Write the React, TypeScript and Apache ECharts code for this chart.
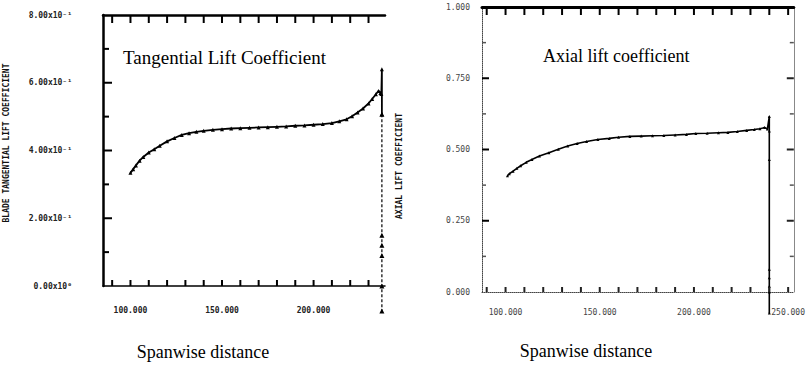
import React, { useEffect, useRef } from "react";
import * as echarts from "echarts";

// Left panel: blade tangential lift coefficient vs spanwise distance
const tangentialMain: [number, number][] = [
  [100, 0.334], [101.5, 0.345], [103, 0.356], [105, 0.37], [107, 0.381], [110, 0.394],
  [113, 0.404], [116, 0.414], [120, 0.427], [124, 0.437], [128, 0.446], [132, 0.451],
  [136, 0.455], [140, 0.458], [145, 0.461], [150, 0.463], [155, 0.465], [160, 0.466],
  [165, 0.467], [170, 0.468], [175, 0.469], [180, 0.47], [185, 0.471], [190, 0.473],
  [195, 0.474], [200, 0.476], [205, 0.478], [210, 0.481], [214, 0.486], [218, 0.492],
  [221, 0.501], [224, 0.512], [227, 0.524], [230, 0.539], [232, 0.552], [234, 0.566],
  [235.5, 0.576], [236.5, 0.57], [237, 0.567], [237.3, 0.64], [237.3, 0.507],
];
const tangentialTip: [number, number][] = [
  [237.3, 0.507], [237.3, 0.15], [237.3, 0.12], [237.3, 0.09], [237.3, 0.0], [237.3, -0.074],
];

// Right panel: axial lift coefficient vs spanwise distance
const axialMain: [number, number][] = [
  [101, 0.408], [102, 0.415], [104, 0.424], [106, 0.434], [108, 0.443], [111, 0.455],
  [114, 0.465], [118, 0.477], [123, 0.489], [128, 0.501], [133, 0.512], [138, 0.521],
  [143, 0.528], [149, 0.535], [155, 0.539], [160, 0.543], [166, 0.546], [172, 0.547],
  [178, 0.548], [184, 0.549], [190, 0.551], [196, 0.553], [201, 0.556], [207, 0.557],
  [213, 0.559], [218, 0.56], [223, 0.563], [228, 0.567], [232, 0.57], [235, 0.573],
  [237.5, 0.577], [239, 0.572], [240, 0.616], [240, 0.565], [240, 0.465], [240, 0.08],
  [240, 0.05], [240, 0.02], [240, 0.0], [240, -0.074],
];

// Axis ranges
const leftXMin = 85, leftXMax = 239, leftYMax = 0.8;
const rightXMin = 87.5, rightXMax = 253, rightYMax = 1;

// Tick labels and tick positions
const leftYTicks = [0.2, 0.4, 0.6];
const leftYMinorTicks = [0.1, 0.3, 0.5, 0.7];
const leftYLabels = ["0.00x10⁰", "2.00x10⁻¹", "4.00x10⁻¹", "6.00x10⁻¹", "8.00x10⁻¹"];
const rightYTicks = [0.25, 0.5, 0.75];
const rightYMinorTicks = [0.125, 0.375, 0.625, 0.875];
const rightYLabels = ["0.000", "0.250", "0.500", "0.750", "1.000"];
const leftXLabelValues = [100, 150, 200];
const rightXLabelValues = [100, 150, 200, 250];
const leftXTickValues = [90, 100, 110, 120, 130, 140, 150, 160, 170, 180, 190, 200, 210, 220, 230];
const rightXTickValues = [90, 100, 110, 120, 130, 140, 150, 160, 170, 180, 190, 200, 210, 220, 230, 240, 250];

const MONO = "DejaVu Sans Mono";
const SERIF = "Liberation Serif";

function tickSeries(
  xAxisIndex: number, yAxisIndex: number, data: [number, number][],
  size: [number, number], offset: [number, number], color = "#000",
) {
  return {
    type: "scatter", xAxisIndex, yAxisIndex, data, clip: false, silent: true,
    symbol: "rect", symbolSize: size, symbolOffset: offset, symbolKeepAspect: false,
    itemStyle: { color, opacity: 1 }, z: 10,
  };
}

export default function App() {
  const ref = useRef<HTMLDivElement>(null);
  useEffect(() => {
    if (!ref.current) return;
    const chart = echarts.init(ref.current, undefined, { renderer: "svg" });
    const labelStyle = { fontFamily: MONO, fontSize: 8, fontWeight: "bold" as const, color: "#222" };
    const noTick = { show: false };
    chart.setOption({
      animation: false,
      backgroundColor: "#ffffff",
      grid: [
        { left: 103, top: 15, width: 282, height: 271 },
        { left: 482, top: 7, width: 318, height: 285 },
      ],
      xAxis: [
        {
          type: "value", gridIndex: 0, position: "bottom", min: leftXMin, max: leftXMax,
          axisLine: { show: true, onZero: false, lineStyle: { color: "#000", width: 1.5 } },
          axisTick: noTick,
          axisLabel: { ...labelStyle, margin: 20, customValues: leftXLabelValues, formatter: (v: number) => v.toFixed(3) },
          splitLine: { show: false },
        },
        {
          type: "value", gridIndex: 0, position: "top", min: leftXMin, max: leftXMax,
          axisLine: { show: true, onZero: false, lineStyle: { color: "#000", width: 2.5 } },
          axisTick: noTick, axisLabel: { show: false }, splitLine: { show: false },
        },
        {
          type: "value", gridIndex: 1, position: "bottom", min: rightXMin, max: rightXMax,
          axisLine: { show: true, onZero: false, lineStyle: { color: "#444", width: 1, type: "dotted" } },
          axisTick: noTick,
          axisLabel: { ...labelStyle, color: "#444", fontWeight: "normal", margin: 16, customValues: rightXLabelValues, formatter: (v: number) => v.toFixed(3) },
          splitLine: { show: false },
        },
        {
          type: "value", gridIndex: 1, position: "top", min: rightXMin, max: rightXMax,
          axisLine: { show: true, onZero: false, lineStyle: { color: "#000", width: 3 } },
          axisTick: noTick, axisLabel: { show: false }, splitLine: { show: false },
        },
      ],
      yAxis: [
        {
          type: "value", gridIndex: 0, position: "left", min: 0, max: leftYMax, interval: 0.2,
          axisLine: { show: true, onZero: false, lineStyle: { color: "#000", width: 2.5 } },
          axisTick: noTick,
          axisLabel: {
            ...labelStyle, margin: 31,
            formatter: (v: number) => leftYLabels[Math.round(v / 0.2)] ?? "",
          },
          splitLine: { show: false },
        },
        {
          type: "value", gridIndex: 1, position: "left", min: 0, max: rightYMax, interval: 0.25,
          axisLine: { show: true, onZero: false, lineStyle: { color: "#444", width: 1, type: "dotted" } },
          axisTick: noTick,
          axisLabel: {
            ...labelStyle, color: "#444", fontWeight: "normal", margin: 12,
            formatter: (v: number) => rightYLabels[Math.round(v / 0.25)] ?? "",
          },
          splitLine: { show: false },
        },
        {
          type: "value", gridIndex: 1, position: "right", min: 0, max: rightYMax, interval: 0.25,
          axisLine: { show: true, onZero: false, lineStyle: { color: "#888", width: 1 } },
          axisTick: noTick, axisLabel: { show: false }, splitLine: { show: false },
        },
      ],
      series: [
        // tick marks pointing into the plots
        tickSeries(0, 0, leftYTicks.map((v) => [leftXMin, v] as [number, number]), [9, 2], [4.5, 0]),
        tickSeries(0, 0, leftYMinorTicks.map((v) => [leftXMin, v] as [number, number]), [6, 2], [3, 0]),
        tickSeries(0, 0, leftXTickValues.map((v) => [v, 0] as [number, number]), [2, 6], [0, -3]),
        tickSeries(0, 0, leftXTickValues.map((v) => [v, leftYMax] as [number, number]), [2, 8], [0, 4]),
        tickSeries(2, 1, rightXTickValues.map((v) => [v, 0] as [number, number]), [2, 5], [0, -2.5], "#222"),
        tickSeries(2, 1, rightXTickValues.map((v) => [v, rightYMax] as [number, number]), [2, 8], [0, 4]),
        tickSeries(2, 1, rightYTicks.map((v) => [rightXMin, v] as [number, number]), [7, 2], [3.5, 0]),
        tickSeries(2, 1, rightYMinorTicks.map((v) => [rightXMin, v] as [number, number]), [4, 1.5], [2, 0], "#555"),
        tickSeries(2, 1, rightYTicks.map((v) => [rightXMax, v] as [number, number]), [7, 2], [-3.5, 0], "#222"),
        tickSeries(2, 1, rightYMinorTicks.map((v) => [rightXMax, v] as [number, number]), [4, 1.5], [-2, 0], "#555"),
        // data curves
        {
          type: "line", xAxisIndex: 0, yAxisIndex: 0, data: tangentialMain, clip: false, z: 3,
          symbol: "triangle", symbolSize: 4, showSymbol: true,
          lineStyle: { color: "#000", width: 1.8 }, itemStyle: { color: "#000" },
        },
        {
          type: "line", xAxisIndex: 0, yAxisIndex: 0, data: tangentialTip, clip: false, z: 3,
          symbol: "triangle", symbolSize: 5,
          lineStyle: { color: "#000", width: 1.2, type: [3, 2] }, itemStyle: { color: "#000" },
        },
        {
          type: "line", xAxisIndex: 2, yAxisIndex: 1, data: axialMain, clip: false, z: 3,
          symbol: "triangle", symbolSize: 3,
          lineStyle: { color: "#000", width: 1.6 }, itemStyle: { color: "#000" },
        },
      ],
      graphic: [
        {
          type: "text", left: 123, top: 48,
          style: { text: "Tangential Lift Coefficient", font: `19px "${SERIF}"`, fill: "#000" },
        },
        {
          type: "text", left: 543, top: 47,
          style: { text: "Axial lift coefficient", font: `18px "${SERIF}"`, fill: "#000" },
        },
        {
          type: "text", x: 6, y: 143, rotation: Math.PI / 2,
          style: { text: "BLADE TANGENTIAL LIFT COEFFICIENT", font: `bold 8px "${MONO}"`, fill: "#111", align: "center", verticalAlign: "middle" },
        },
        {
          type: "text", x: 399, y: 166, rotation: Math.PI / 2,
          style: { text: "AXIAL LIFT COEFFICIENT", font: `bold 8px "${MONO}"`, fill: "#111", align: "center", verticalAlign: "middle" },
        },
        {
          type: "text", x: 203, y: 352,
          style: { text: "Spanwise distance", font: `18px "${SERIF}"`, fill: "#000", align: "center", verticalAlign: "middle" },
        },
        {
          type: "text", x: 586, y: 351,
          style: { text: "Spanwise distance", font: `18px "${SERIF}"`, fill: "#000", align: "center", verticalAlign: "middle" },
        },
      ],
    });
    return () => chart.dispose();
  }, []);
  return <div ref={ref} style={{ position: "absolute", left: 0, top: 0, width: 808, height: 379 }} />;
}
